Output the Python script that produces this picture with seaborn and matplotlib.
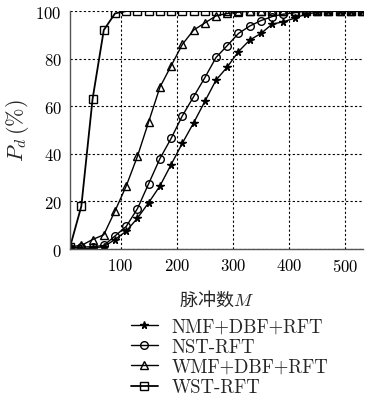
import numpy as np
import pandas as pd
import matplotlib
matplotlib.use("Agg")
import matplotlib.pyplot as plt
import seaborn as sns

M = list(range(10, 531, 20))
nmf = [0, 0, 0.5, 1, 4, 7.5, 13, 19.5, 26.5, 35.5, 44.5, 53, 62, 71, 76.5, 83, 87.8, 90.6,
       94.5, 95.5, 97, 98.7, 99.5, 100, 100, 100, 100]
nst = [0.5, 0.8, 1, 1.5, 5.5, 9.5, 17, 27.5, 38, 46.5, 56, 64, 72, 80.5, 85.5, 90.6, 93.7,
       96, 97.7, 98.7, 99.3, 100, 100, 100, 100, 100, 100]
wmf = [1, 1.5, 4, 6, 16, 26.5, 39, 53.5, 68, 77, 86, 92, 95, 98, 99, 99.5, 100, 100, 100,
       100, 100, 100, 100, 100, 100, 100, 100]
wst = [1, 18, 63, 92, 99, 100] + [100] * 21
labels = ["NMF+DBF+RFT", "NST-RFT", "WMF+DBF+RFT", "WST-RFT"]
xticks = [100, 200, 300, 400, 500]
yticks = [0, 20, 40, 60, 80, 100]

sns.set_theme(style="white")
plt.rcParams["font.family"] = ["cmr10", "DejaVu Serif"]
plt.rcParams["mathtext.fontset"] = "cm"
plt.rcParams["axes.formatter.use_mathtext"] = True

fig = plt.figure(figsize=(3.69, 4.02), dpi=100)
ax = fig.add_axes([0.19, 0.378, 0.794, 0.592])

df = pd.DataFrame({"M": M * 4,
                   "Pd": nmf + nst + wmf + wst,
                   "method": sum([[l] * len(M) for l in labels], [])})
mk = {"NMF+DBF+RFT": "*", "NST-RFT": "o", "WMF+DBF+RFT": "^", "WST-RFT": "s"}
sns.lineplot(data=df, x="M", y="Pd", hue="method", style="method", ax=ax,
             markers=mk, dashes=False, palette=["black"] * 4, hue_order=labels,
             style_order=labels, linewidth=1.0, markersize=5)

def style_line(ln, lab):
    ln.set_color("black")
    ln.set_linestyle("-")
    ln.set_markeredgecolor("black")
    ln.set_markeredgewidth(1.0)
    if lab == "NMF+DBF+RFT":
        ln.set_markerfacecolor("black")
        ln.set_markersize(5.5)
    else:
        ln.set_markerfacecolor("none")
        ln.set_markersize(5.5)
    if lab == "WST-RFT":
        ln.set_linewidth(1.3)

for ln, lab in zip(ax.lines[:4], labels):
    style_line(ln, lab)

ax.set_xlim(10, 532)
ax.set_ylim(0, 100)
ax.set_xticks(xticks)
ax.set_yticks(yticks)
ax.grid(True, color="black", linestyle=(0, (2, 2)), linewidth=0.8)
for s in ["top", "right"]:
    ax.spines[s].set_visible(False)
for s in ["left", "bottom"]:
    ax.spines[s].set_color("#555555")
    ax.spines[s].set_linewidth(1.0)
ax.tick_params(axis="both", labelsize=12, length=0, pad=6, colors="black")
ax.set_ylabel(r"$P_d\,(\%)$", fontsize=16, labelpad=3)
ax.set_xlabel("脉冲数$M$", fontsize=13, family=["Noto Sans CJK SC"], labelpad=10)

handles, _ = ax.get_legend_handles_labels()
for h, lab in zip(handles, labels):
    style_line(h, lab)
leg = ax.legend(handles, labels, loc="upper center", bbox_to_anchor=(0.545, -0.255),
                frameon=False, fontsize=13.5, handlelength=1.4, labelspacing=0.13,
                handletextpad=0.75, borderaxespad=0)
fig.savefig("out.png", dpi=100)
